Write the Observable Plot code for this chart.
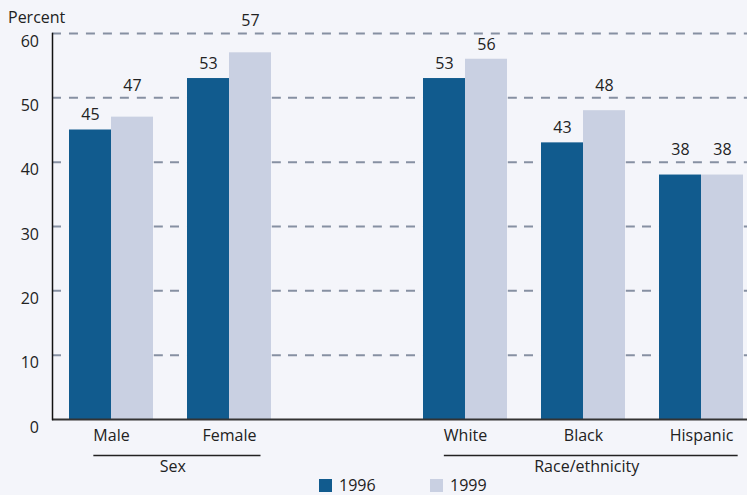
<!DOCTYPE html>
<html><head><meta charset="utf-8">
<script src="https://cdn.jsdelivr.net/npm/d3@7"></script>
<script src="https://cdn.jsdelivr.net/npm/@observablehq/plot@0.6"></script>
<style>
html,body{margin:0;padding:0;background:#f4f5fa;overflow:hidden;width:747px;height:495px;}
body{font-family:"Open Sans",sans-serif;color:#222;}
#legend{position:relative;height:27px;font-size:16px;}
.item{position:absolute;top:7px;display:flex;align-items:center;height:21px;line-height:21px;}
.sw{width:13px;height:13px;margin-right:7px;}
</style></head><body>
<div id="chart"></div>
<div id="legend"></div>
<script>
// ---- data ----
const groupNames = ["Sex", "Race/ethnicity"];
const groupMembers = [["Male", "Female"], ["White", "Black", "Hispanic"]];
const categories = ["Male", "Female", "White", "Black", "Hispanic"];
const years = ["1996", "1999"];
const values1996 = [45, 53, 53, 43, 38];
const values1999 = [47, 57, 56, 48, 38];
const yTicks = [0, 10, 20, 30, 40, 50, 60];
const yLabel = "Percent";

// ---- build tables ----
const data = categories.flatMap((c, i) => [
  {category: c, year: years[0], value: values1996[i]},
  {category: c, year: years[1], value: values1999[i]}
]);
const GAP = "__gap__";
const fxDomain = [...groupMembers[0], GAP, ...groupMembers[1]];
// gridlines repeated in every column (incl. the spacer column) so the grid is continuous
const gridData = fxDomain.flatMap(f => yTicks.map(v => ({fx: f, v})));
const colors = ["#115b8e", "#c9d0e2"];

// label placement rule: sit just above the bar, hop above a gridline if colliding
function labelValue(v) {
  const raw = v + 2.3;
  const nearest = Math.round(raw / 10) * 10;
  return Math.abs(raw - nearest) < 1.5 ? nearest + 1.9 : raw;
}

const plot = Plot.plot({
  width: 747, height: 468,
  marginLeft: 49, marginRight: 0, marginTop: 33, marginBottom: 49,
  style: {background: "transparent", fontFamily: "'Open Sans', sans-serif", fontSize: "16px", color: "#222", overflow: "visible"},
  fx: {domain: fxDomain, range: [49.5, 762.3], paddingInner: 0, paddingOuter: 0, label: null},
  x: {domain: years, paddingInner: 0, paddingOuter: 0.397, axis: null},
  y: {domain: [0, 60], axis: null},
  color: {domain: years, range: colors},
  marks: [
    Plot.ruleY(gridData.filter(d => d.v > 0), {fx: "fx", y: "v", stroke: "#8690a2", strokeWidth: 2, strokeDasharray: "9,7.97"}),
    Plot.barY(data, {fx: "category", x: "year", y: "value", fill: "year"}),
    Plot.ruleY(gridData.filter(d => d.v === 0), {fx: "fx", y: "v", stroke: "#333", strokeWidth: 2}),
    Plot.frame({anchor: "left", facetAnchor: "left", stroke: "#111", strokeWidth: 1.5}),
    Plot.text(data, {fx: "category", x: "year", y: d => labelValue(d.value), text: d => String(d.value), fill: "#222", fontSize: 16}),
    Plot.axisY(yTicks, {tickSize: 0, tickPadding: 13.5, dy: 8, fontSize: 16, label: null}),
    Plot.axisFx({anchor: "bottom", tickSize: 0, tickPadding: 10, fontSize: 16, label: null, tickFormat: d => d === GAP ? "" : d})
  ]
});
document.getElementById("chart").append(plot);

// ---- y label, group underlines and group labels ----
const svg = d3.select(plot);
svg.append("text").attr("x", 8).attr("y", 17).attr("dy", "0.35em").attr("text-anchor", "start")
  .attr("font-size", 16).attr("fill", "#222").text(yLabel);

const y0 = plot.scale("y").apply(0);
const tickTexts = Array.from(plot.querySelectorAll('g[aria-label="fx-axis tick label"] text'));
const svgRect = plot.getBoundingClientRect();
function labelBox(name) {
  const t = tickTexts.find(e => e.textContent === name);
  const r = t.getBoundingClientRect();
  return {x1: r.left - svgRect.left, x2: r.right - svgRect.left};
}
groupNames.forEach((g, i) => {
  const m = groupMembers[i];
  const a = labelBox(m[0]), b = labelBox(m[m.length - 1]);
  const x1 = a.x1, x2 = b.x2 + 4;
  svg.append("line").attr("x1", x1).attr("x2", x2).attr("y1", y0 + 36.5).attr("y2", y0 + 36.5)
    .attr("stroke", "#222").attr("stroke-width", 1.5);
  svg.append("text").attr("x", (x1 + x2) / 2 - 4).attr("y", y0 + 47).attr("dy", "0.35em")
    .attr("text-anchor", "middle").attr("font-size", 16).attr("fill", "#222").text(g);
});

// ---- legend ----
const legend = d3.select("#legend");
const legendLeft = [319, 430];
years.forEach((yr, i) => {
  const it = legend.append("div").attr("class", "item").style("left", legendLeft[i] + "px");
  it.append("div").attr("class", "sw").style("background", colors[i]);
  it.append("span").text(yr);
});
</script>
</body></html>
